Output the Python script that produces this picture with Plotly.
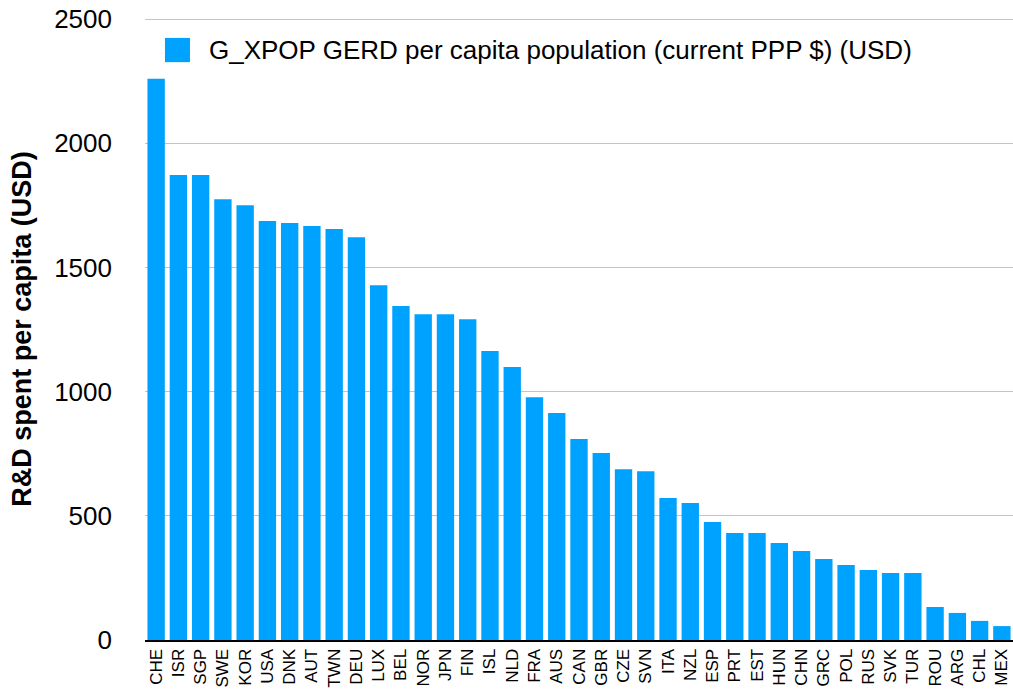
import plotly.graph_objects as go

countries = ["CHE", "ISR", "SGP", "SWE", "KOR", "USA", "DNK", "AUT", "TWN", "DEU",
             "LUX", "BEL", "NOR", "JPN", "FIN", "ISL", "NLD", "FRA", "AUS", "CAN",
             "GBR", "CZE", "SVN", "ITA", "NZL", "ESP", "PRT", "EST", "HUN", "CHN",
             "GRC", "POL", "RUS", "SVK", "TUR", "ROU", "ARG", "CHL", "MEX"]
gerd_per_capita = [2260, 1873, 1873, 1775, 1751, 1687, 1679, 1667, 1655, 1622,
                   1429, 1345, 1312, 1312, 1292, 1164, 1099, 978, 914, 809,
                   753, 688, 680, 572, 552, 475, 431, 431, 391, 358,
                   326, 302, 282, 270, 270, 133, 109, 77, 56]
series_name = "G_XPOP GERD per capita population (current PPP $) (USD)"
y_ticks = [0, 500, 1000, 1500, 2000, 2500]

FONT = "Liberation Sans, Arial, Helvetica, sans-serif"
BAR_COLOR = "#00A2FF"

fig = go.Figure()
fig.add_trace(go.Bar(
    x=countries,
    y=gerd_per_capita,
    name=series_name,
    marker=dict(color=BAR_COLOR, line=dict(width=0)),
    showlegend=False,
))

# legend-like key (large square swatch + label)
fig.add_shape(type="rect", xref="paper", yref="paper",
              x0=0.023, x1=0.0518, y0=0.929, y1=0.968,
              fillcolor=BAR_COLOR, line=dict(width=0), layer="above")
fig.add_annotation(xref="paper", yref="paper", x=0.0714, y=0.948,
                   xanchor="left", yanchor="middle", showarrow=False,
                   text=series_name,
                   font=dict(size=26, family=FONT, color="black"))

fig.update_layout(
    width=1013,
    height=691,
    margin=dict(l=145, r=0, t=18, b=51, autoexpand=False),
    paper_bgcolor="white",
    plot_bgcolor="white",
    bargap=0.22,
    font=dict(family=FONT, color="black"),
    showlegend=False,
    xaxis=dict(
        type="category",
        tickangle=-90,
        tickfont=dict(size=17, family=FONT, color="black"),
        showline=True,
        linecolor="black",
        linewidth=2,
        showgrid=False,
        ticks="",
        range=[-0.5, len(countries) - 0.5],
    ),
    yaxis=dict(
        range=[0, 2505],
        tickvals=y_ticks,
        tickfont=dict(size=26, family=FONT, color="black"),
        showgrid=True,
        gridcolor="#c4c4c4",
        gridwidth=1,
        zeroline=False,
        showline=False,
        ticks="",
        ticklabelstandoff=32,
        title=dict(
            text="<b>R&D spent per capita (USD)</b>",
            font=dict(size=27, family=FONT, color="black"),
            standoff=14,
        ),
    ),
)

fig.write_html("out.html", config={"displayModeBar": False},
               post_script="document.body.style.margin='0';")
